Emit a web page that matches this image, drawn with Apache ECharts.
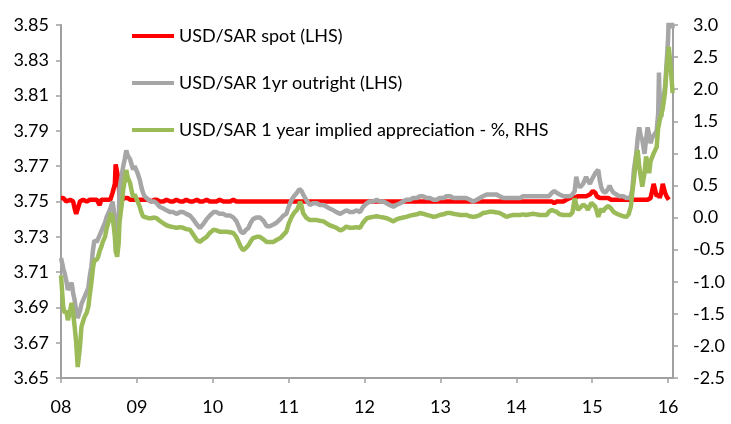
<!DOCTYPE html>
<html><head><meta charset="utf-8">
<script src="https://cdn.jsdelivr.net/npm/echarts@6/dist/echarts.min.js"></script>
<style>html,body{margin:0;padding:0;background:#fff}#c{width:731px;height:424px}</style>
</head><body><div id="c"></div>
<script>
// decimal years
const dates = [2008.00,2008.03,2008.05,2008.07,2008.09,2008.12,2008.14,2008.16,2008.18,2008.20,2008.22,2008.25,2008.27,2008.29,2008.31,2008.34,2008.36,2008.38,2008.40,2008.42,2008.44,2008.47,2008.49,2008.51,2008.53,2008.55,2008.58,2008.60,2008.62,2008.65,2008.66,2008.68,2008.71,2008.72,2008.74,2008.76,2008.77,2008.80,2008.82,2008.84,2008.86,2008.88,2008.91,2008.93,2008.95,2008.97,2008.99,2009.01,2009.04,2009.06,2009.08,2009.10,2009.15,2009.19,2009.23,2009.26,2009.30,2009.35,2009.39,2009.44,2009.48,2009.52,2009.57,2009.61,2009.65,2009.70,2009.74,2009.79,2009.83,2009.87,2009.92,2009.96,2010.01,2010.05,2010.09,2010.14,2010.18,2010.23,2010.27,2010.31,2010.34,2010.37,2010.40,2010.44,2010.47,2010.50,2010.53,2010.58,2010.62,2010.67,2010.71,2010.75,2010.80,2010.84,2010.89,2010.93,2010.97,2011.00,2011.04,2011.07,2011.11,2011.14,2011.15,2011.17,2011.19,2011.23,2011.28,2011.32,2011.37,2011.41,2011.46,2011.50,2011.54,2011.59,2011.63,2011.68,2011.70,2011.72,2011.76,2011.81,2011.85,2011.89,2011.94,2011.98,2012.03,2012.07,2012.11,2012.16,2012.20,2012.25,2012.29,2012.33,2012.38,2012.42,2012.47,2012.51,2012.55,2012.60,2012.64,2012.69,2012.73,2012.77,2012.82,2012.86,2012.91,2012.95,2012.99,2013.04,2013.08,2013.13,2013.17,2013.21,2013.26,2013.30,2013.34,2013.39,2013.43,2013.48,2013.52,2013.56,2013.61,2013.65,2013.69,2013.74,2013.78,2013.83,2013.87,2013.92,2013.96,2014.00,2014.05,2014.09,2014.13,2014.18,2014.22,2014.26,2014.31,2014.35,2014.40,2014.43,2014.47,2014.50,2014.53,2014.57,2014.62,2014.66,2014.71,2014.74,2014.77,2014.79,2014.81,2014.84,2014.86,2014.88,2014.90,2014.92,2014.94,2014.97,2014.99,2015.01,2015.04,2015.06,2015.08,2015.10,2015.12,2015.14,2015.17,2015.19,2015.21,2015.23,2015.25,2015.28,2015.32,2015.36,2015.41,2015.45,2015.48,2015.51,2015.53,2015.55,2015.58,2015.60,2015.62,2015.64,2015.66,2015.69,2015.71,2015.73,2015.75,2015.77,2015.79,2015.81,2015.85,2015.87,2015.88,2015.89,2015.91,2015.93,2015.96,2015.98,2016.00,2016.01,2016.04,2016.06];
const spot = [3.752,3.752,3.751,3.750,3.751,3.751,3.752,3.750,3.746,3.743,3.744,3.750,3.751,3.751,3.751,3.750,3.751,3.751,3.751,3.751,3.750,3.751,3.751,3.748,3.751,3.751,3.751,3.751,3.751,3.751,3.752,3.755,3.760,3.771,3.770,3.762,3.752,3.751,3.752,3.752,3.751,3.752,3.751,3.751,3.751,3.750,3.751,3.751,3.751,3.750,3.751,3.751,3.751,3.750,3.751,3.751,3.750,3.750,3.751,3.750,3.750,3.751,3.750,3.750,3.751,3.750,3.750,3.751,3.750,3.750,3.751,3.750,3.750,3.750,3.751,3.750,3.750,3.750,3.751,3.750,3.750,3.750,3.750,3.750,3.750,3.750,3.750,3.750,3.750,3.750,3.750,3.750,3.750,3.750,3.750,3.750,3.750,3.750,3.750,3.750,3.750,3.750,3.750,3.750,3.750,3.750,3.750,3.750,3.750,3.750,3.750,3.750,3.750,3.750,3.750,3.750,3.750,3.750,3.750,3.750,3.750,3.750,3.750,3.750,3.750,3.750,3.750,3.750,3.750,3.750,3.750,3.750,3.750,3.750,3.750,3.750,3.750,3.750,3.750,3.750,3.750,3.750,3.750,3.750,3.750,3.750,3.750,3.750,3.750,3.750,3.750,3.750,3.750,3.750,3.750,3.750,3.750,3.750,3.750,3.750,3.750,3.750,3.750,3.750,3.750,3.750,3.750,3.750,3.750,3.750,3.750,3.750,3.750,3.750,3.750,3.750,3.750,3.750,3.750,3.750,3.750,3.749,3.750,3.750,3.750,3.751,3.752,3.753,3.752,3.752,3.753,3.753,3.753,3.753,3.753,3.753,3.753,3.754,3.755,3.756,3.755,3.753,3.752,3.752,3.752,3.752,3.752,3.752,3.752,3.751,3.751,3.751,3.751,3.751,3.751,3.751,3.751,3.751,3.751,3.751,3.751,3.751,3.751,3.751,3.751,3.751,3.751,3.751,3.752,3.752,3.752,3.760,3.753,3.752,3.754,3.752,3.755,3.760,3.755,3.753,3.752,3.751];
const outright = [3.718,3.712,3.709,3.705,3.700,3.702,3.704,3.698,3.694,3.688,3.684,3.688,3.692,3.694,3.696,3.699,3.701,3.708,3.713,3.722,3.728,3.727,3.728,3.731,3.732,3.735,3.738,3.741,3.743,3.746,3.747,3.750,3.740,3.733,3.728,3.738,3.757,3.765,3.770,3.774,3.779,3.776,3.774,3.771,3.768,3.770,3.770,3.766,3.762,3.758,3.755,3.753,3.751,3.750,3.750,3.749,3.747,3.746,3.745,3.744,3.744,3.743,3.744,3.744,3.743,3.742,3.740,3.737,3.735,3.737,3.740,3.742,3.744,3.744,3.743,3.743,3.742,3.742,3.741,3.739,3.736,3.733,3.732,3.734,3.735,3.738,3.740,3.741,3.741,3.739,3.736,3.736,3.737,3.738,3.740,3.742,3.743,3.747,3.751,3.753,3.755,3.757,3.758,3.756,3.754,3.751,3.748,3.749,3.749,3.748,3.748,3.747,3.746,3.745,3.744,3.743,3.743,3.744,3.745,3.744,3.744,3.745,3.744,3.747,3.749,3.750,3.750,3.751,3.750,3.750,3.749,3.748,3.747,3.748,3.749,3.750,3.751,3.751,3.752,3.752,3.753,3.753,3.752,3.752,3.751,3.751,3.752,3.752,3.753,3.753,3.752,3.752,3.752,3.752,3.752,3.751,3.750,3.751,3.752,3.753,3.754,3.754,3.754,3.754,3.753,3.752,3.752,3.752,3.752,3.752,3.752,3.753,3.753,3.753,3.753,3.753,3.753,3.753,3.753,3.753,3.755,3.756,3.755,3.754,3.753,3.753,3.753,3.754,3.756,3.764,3.760,3.758,3.759,3.760,3.762,3.764,3.762,3.760,3.762,3.763,3.766,3.767,3.768,3.762,3.758,3.756,3.755,3.756,3.757,3.759,3.757,3.755,3.754,3.753,3.753,3.752,3.752,3.753,3.757,3.768,3.777,3.786,3.792,3.787,3.785,3.777,3.785,3.792,3.788,3.783,3.786,3.785,3.790,3.800,3.823,3.805,3.798,3.806,3.815,3.828,3.842,3.855,3.856,3.848,3.824];
const implied = [-0.90,-1.40,-1.49,-1.45,-1.60,-1.45,-1.33,-1.50,-1.70,-1.95,-2.33,-2.01,-1.70,-1.62,-1.55,-1.48,-1.39,-1.20,-1.02,-0.80,-0.66,-0.66,-0.61,-0.52,-0.46,-0.38,-0.30,-0.18,-0.09,0.02,0.07,0.02,-0.30,-0.52,-0.61,-0.40,-0.09,0.20,0.43,0.58,0.74,0.62,0.54,0.42,0.32,0.36,0.38,0.25,0.16,0.08,0.02,0.00,-0.01,-0.01,0.00,-0.01,-0.05,-0.09,-0.12,-0.14,-0.15,-0.16,-0.15,-0.16,-0.18,-0.19,-0.26,-0.35,-0.38,-0.34,-0.30,-0.24,-0.19,-0.20,-0.22,-0.22,-0.22,-0.23,-0.24,-0.30,-0.38,-0.46,-0.51,-0.47,-0.43,-0.37,-0.32,-0.30,-0.30,-0.34,-0.38,-0.38,-0.38,-0.35,-0.32,-0.27,-0.22,-0.10,0.01,0.07,0.12,0.20,0.25,0.18,0.07,0.00,-0.04,-0.04,-0.04,-0.05,-0.06,-0.09,-0.12,-0.14,-0.16,-0.20,-0.22,-0.18,-0.14,-0.16,-0.16,-0.15,-0.16,-0.08,-0.01,0.00,0.01,0.02,0.01,0.00,-0.01,-0.03,-0.06,-0.03,-0.01,0.00,0.01,0.03,0.04,0.05,0.07,0.06,0.04,0.03,0.01,0.02,0.04,0.05,0.07,0.07,0.06,0.05,0.04,0.04,0.04,0.02,0.01,0.02,0.04,0.07,0.08,0.09,0.09,0.08,0.07,0.04,0.01,0.03,0.04,0.04,0.04,0.05,0.04,0.05,0.06,0.05,0.04,0.04,0.04,0.09,0.12,0.10,0.09,0.05,0.04,0.04,0.04,0.08,0.30,0.20,0.12,0.15,0.17,0.20,0.23,0.17,0.12,0.18,0.23,0.21,0.17,0.10,0.01,0.08,0.14,0.09,0.14,0.15,0.18,0.20,0.14,0.09,0.06,0.04,0.02,0.01,0.05,0.17,0.40,0.59,0.95,1.05,0.79,0.64,0.48,0.70,0.95,0.85,0.69,0.88,0.90,1.00,1.10,1.40,1.45,1.52,1.60,1.70,1.95,2.30,2.55,2.66,2.25,1.94];

const seriesNames = ['USD/SAR spot (LHS)', 'USD/SAR 1yr outright (LHS)', 'USD/SAR 1 year implied appreciation - %, RHS'];
const seriesColors = ['#ff0000', '#a6a6a6', '#9bbb59'];
const xTicks = [2008, 2009, 2010, 2011, 2012, 2013, 2014, 2015, 2016];
const leftTicks = [3.65, 3.67, 3.69, 3.71, 3.73, 3.75, 3.77, 3.79, 3.81, 3.83, 3.85];
const rightTicks = [-2.5, -2.0, -1.5, -1.0, -0.5, 0.0, 0.5, 1.0, 1.5, 2.0, 2.5, 3.0];

const pair = arr => dates.map((d, i) => [d, arr[i]]);
const FONT = 'Lato';
const axisColor = '#a0a0a0';

const chart = echarts.init(document.getElementById('c'), null, {renderer: 'canvas'});
chart.setOption({
  animation: false,
  backgroundColor: '#ffffff',
  textStyle: {fontFamily: FONT},
  grid: {left: 61, right: 58, top: 25, bottom: 46, containLabel: false},
  legend: {
    orient: 'vertical', left: 127, top: 21,
    icon: 'rect', itemWidth: 42, itemHeight: 4, itemGap: 27,
    textStyle: {fontFamily: FONT, fontSize: 18, color: '#000', lineHeight: 20},
    data: seriesNames
  },
  xAxis: {
    type: 'value', min: 2008, max: 2016.065,
    axisLine: {show: true, onZero: false, lineStyle: {color: axisColor, width: 2}},
    axisTick: {show: true, length: 5, lineStyle: {color: axisColor, width: 1.5}, customValues: xTicks},
    axisLabel: {customValues: xTicks, formatter: v => String(v).slice(2), color: '#000', fontSize: 18, fontFamily: FONT, margin: 20},
    splitLine: {show: false}
  },
  yAxis: [{
    type: 'value', min: 3.65, max: 3.85, position: 'left',
    axisLine: {show: true, lineStyle: {color: axisColor, width: 2}},
    axisTick: {show: true, length: 5, lineStyle: {color: axisColor, width: 1.5}, customValues: leftTicks},
    axisLabel: {customValues: leftTicks, formatter: v => v.toFixed(2), color: '#000', fontSize: 18, fontFamily: FONT, margin: 12},
    splitLine: {show: false}
  }, {
    type: 'value', min: -2.5, max: 3.0, position: 'right',
    axisLine: {show: true, lineStyle: {color: axisColor, width: 2}},
    axisTick: {show: true, length: 5, lineStyle: {color: axisColor, width: 1.5}, customValues: rightTicks},
    axisLabel: {customValues: rightTicks, formatter: v => v.toFixed(1), color: '#000', fontSize: 18, fontFamily: FONT, margin: 20},
    splitLine: {show: false}
  }],
  series: [
    {name: seriesNames[0], type: 'line', yAxisIndex: 0, data: pair(spot), showSymbol: false, symbol: 'none', clip: true,
     lineStyle: {color: seriesColors[0], width: 4.5}, itemStyle: {color: seriesColors[0]}},
    {name: seriesNames[1], type: 'line', yAxisIndex: 0, data: pair(outright), showSymbol: false, symbol: 'none', clip: true,
     lineStyle: {color: seriesColors[1], width: 4.5}, itemStyle: {color: seriesColors[1]}},
    {name: seriesNames[2], type: 'line', yAxisIndex: 1, data: pair(implied), showSymbol: false, symbol: 'none', clip: true,
     lineStyle: {color: seriesColors[2], width: 4.5}, itemStyle: {color: seriesColors[2]}}
  ]
});
</script></body></html>
